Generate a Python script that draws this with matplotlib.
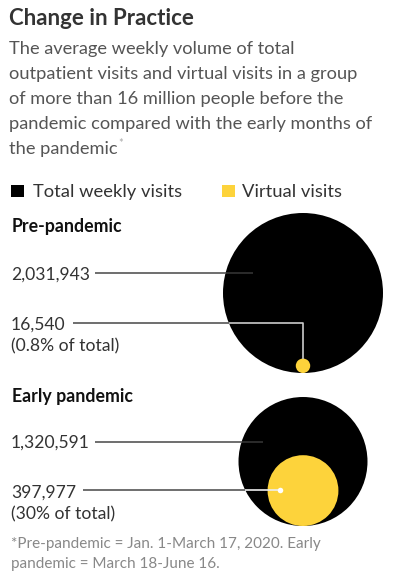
import numpy as np
import matplotlib
matplotlib.use("Agg")
import matplotlib.pyplot as plt
from matplotlib.patches import Circle, Rectangle

# ---- data ----
periods = ["Pre-pandemic", "Early pandemic"]
total_visits = [2031943, 1320591]
virtual_visits = [16540, 397977]
virtual_share_labels = ["(0.8% of total)", "(30% of total)"]
series_labels = ["Total weekly visits", "Virtual visits"]

title = "Change in Practice"
subtitle = ["The average weekly volume of total",
            "outpatient visits and virtual visits in a group",
            "of more than 16 million people before the",
            "pandemic compared with the early months of",
            "the pandemic"]
footnote = ["*Pre-pandemic = Jan. 1-March 17, 2020. Early",
            "pandemic = March 18-June 16."]

BLACK = "#000000"
YELLOW = "#fdd33b"
FONT = ["Lato", "DejaVu Sans"]

W, H = 396, 582
fig = plt.figure(figsize=(W / 100, H / 100), dpi=100)
ax = fig.add_axes([0, 0, 1, 1])
ax.set_xlim(0, W)
ax.set_ylim(H, 0)
ax.set_aspect("equal")
ax.axis("off")

def txt(x, y, s, size, color, weight="normal", **kw):
    return ax.text(x, y, s, fontsize=size, color=color, fontweight=weight,
                   family=FONT, va="baseline", ha="left", **kw)

renderer = fig.canvas.get_renderer()

def right_edge(t):
    bb = t.get_window_extent(renderer=renderer)
    return bb.x1  # pixels == data x units (1:1 mapping)

# title & subtitle
txt(9, 25, title, 16, "#333333", weight="bold")
last = None
for i, line in enumerate(subtitle):
    last = txt(9, 54 + 25 * i, line, 13.15, "#555555")
ax.text(right_edge(last) + 1, 147, "*", fontsize=8, color="#aaaaaa",
        family=FONT, va="baseline")

# legend
ax.add_patch(Rectangle((11, 185), 13, 12, color=BLACK, lw=0))
txt(33, 197, series_labels[0], 13.2, "#333333")
ax.add_patch(Rectangle((222, 185), 13, 12, color=YELLOW, lw=0))
txt(242, 197, series_labels[1], 13.2, "#333333")

# circles
R_MAX = 80.0
scale = R_MAX / np.sqrt(max(total_visits))
cx = 303
bottoms = [373, 526]
heading_y = [232, 402]
total_y = [273, 442]
virt_y = [322.5, 490]
total_label_base = [280, 448]
virt_label_base = [330, 498]

for k in range(2):
    R = scale * np.sqrt(total_visits[k])
    r = scale * np.sqrt(virtual_visits[k])
    cy = bottoms[k] - R
    vy = bottoms[k] - r
    ax.add_patch(Circle((cx, cy), R, color=BLACK, lw=0, zorder=2))
    ax.add_patch(Circle((cx, vy), r, color=YELLOW, lw=0, zorder=3))

    txt(12, heading_y[k], periods[k], 12.8, "#111111", weight="bold")
    t_tot = txt(11, total_label_base[k], f"{total_visits[k]:,}", 12.6, "#333333")
    t_vir = txt(11, virt_label_base[k], f"{virtual_visits[k]:,}", 12.6, "#333333")
    txt(11, virt_label_base[k] + 21, virtual_share_labels[k], 12.6, "#333333")

    # total leader line
    ty = total_y[k]
    edge = cx - np.sqrt(R ** 2 - (ty - cy) ** 2)
    end = cx - R * 0.62
    ax.plot([right_edge(t_tot) + 5, edge], [ty, ty], color="#555555", lw=1.2,
            zorder=4, solid_capstyle="butt")
    ax.plot([edge, end], [ty, ty], color="#333333", lw=1.2, zorder=4,
            solid_capstyle="butt")

    # virtual leader line
    vyl = virt_y[k]
    edge_v = cx - np.sqrt(R ** 2 - (vyl - cy) ** 2)
    ax.plot([right_edge(t_vir) + 7, edge_v], [vyl, vyl], color="#555555",
            lw=1.2, zorder=4, solid_capstyle="butt")
    if k == 0:
        ax.plot([edge_v, cx, cx], [vyl, vyl, vy - r + 0.5], color="#cccccc",
                lw=1.2, zorder=4, solid_capstyle="butt")
    else:
        dot_x = cx - r * 0.66
        ax.plot([edge_v, dot_x], [vyl, vyl], color="#eeeeee", lw=1.2,
                zorder=4, solid_capstyle="butt")
        ax.plot([dot_x], [vyl], "o", color="white", ms=4, zorder=5, mew=0)

# footnote
txt(11, 548, footnote[0], 11, "#888888")
txt(11, 568, footnote[1], 11, "#888888")

fig.savefig("out.png", dpi=100, facecolor="white")
